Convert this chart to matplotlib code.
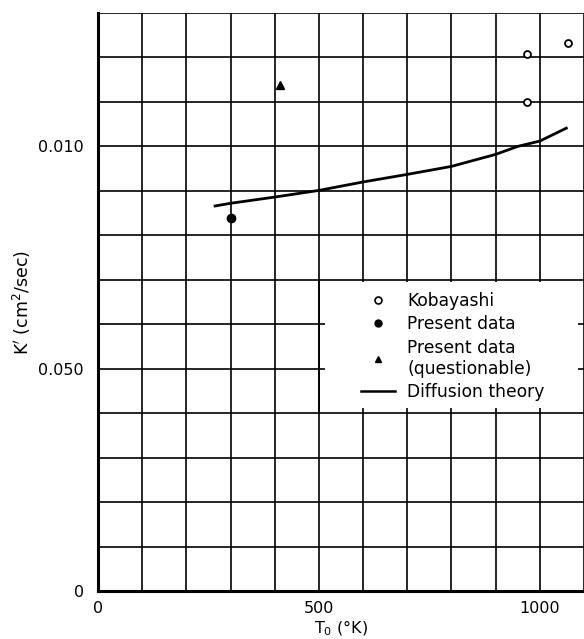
import matplotlib.pyplot as plt
from matplotlib.lines import Line2D
from matplotlib.patches import Rectangle

# Kobayashi (open circles)
kob_T = [970, 970, 1063]
kob_K = [0.1207, 0.1100, 0.1232]

# present data (filled circle) and questionable point (triangle)
pres_T = [302]
pres_K = [0.0840]
quest_T = [412]
quest_K = [0.1139]

# diffusion theory curve
diff_T = [265, 300, 400, 500, 600, 700, 800, 900, 950, 1000, 1060]
diff_K = [0.0866, 0.0872, 0.0886, 0.0901, 0.0920, 0.0937, 0.0955, 0.0982, 0.1000, 0.1012, 0.1041]

xticks = [0, 500, 1000]
xtick_labels = ['0', '500', '1000']
yticks = [0, 0.05, 0.10]
ytick_labels = ['0', '0.050', '0.010']

plt.rcParams['font.family'] = ['DejaVu Sans']
plt.rcParams['mathtext.fontset'] = 'dejavusans'

fig = plt.figure(figsize=(5.84, 6.39), dpi=100)
ax = fig.add_axes([98 / 584, 48 / 639, 486 / 584, 578 / 639])

ax.set_xlim(0, 1100)
ax.set_ylim(0, 0.13)

# grid every 100 K and 0.01
for t in range(0, 1101, 100):
    ax.axvline(t, color='black', lw=1.2, zorder=1)
for i in range(0, 14):
    ax.axhline(i * 0.01, color='black', lw=1.2, zorder=1)

# blank patch behind the legend (grid is cut there)
ax.add_patch(Rectangle((0.467, 0.317), 0.52, 0.218, transform=ax.transAxes,
                       facecolor='white', edgecolor='none', zorder=2))
# the 500 line runs through the legend area
ax.plot([500, 500], [0.04, 0.07], color='black', lw=1.2, zorder=2.5)

ax.plot(diff_T, diff_K, color='black', lw=2.0, zorder=3)
ax.plot(kob_T, kob_K, 'o', ms=5, mfc='white', mec='black', mew=1.3, zorder=4)
ax.plot(pres_T, pres_K, 'o', ms=6, color='black', zorder=4)
ax.plot(quest_T, quest_K, '^', ms=6, color='black', zorder=4)

ax.set_xticks(xticks)
ax.set_xticklabels(xtick_labels)
ax.set_yticks(yticks)
ax.set_yticklabels(ytick_labels)
ax.tick_params(length=0, labelsize=11.5)
ax.tick_params(axis='x', pad=7)
ax.tick_params(axis='y', pad=10)

for s in ['top', 'right']:
    ax.spines[s].set_visible(False)
ax.spines['left'].set_linewidth(2.2)
ax.spines['bottom'].set_linewidth(2.2)

ax.set_xlabel('T$_0$ (°K)', fontsize=11.5, labelpad=2)
ax.set_ylabel("K$'$ (cm$^2$/sec)", fontsize=12.5, labelpad=4)

handles = [
    Line2D([], [], ls='none', marker='o', ms=5, mfc='white', mec='black', mew=1.2),
    Line2D([], [], ls='none', marker='o', ms=5, color='black'),
    Line2D([], [], ls='none', marker='^', ms=5, color='black'),
    Line2D([], [], color='black', lw=1.8),
]
labels = ['Kobayashi', 'Present data', 'Present data\n(questionable)', 'Diffusion theory']
leg = ax.legend(handles, labels, loc='upper left', bbox_to_anchor=(0.513, 0.541),
                frameon=False, fontsize=12.3, handlelength=2.0, handletextpad=0.7,
                labelspacing=0.32, borderpad=0.3)
leg.set_zorder(5)

fig.savefig('out.png', dpi=100)
